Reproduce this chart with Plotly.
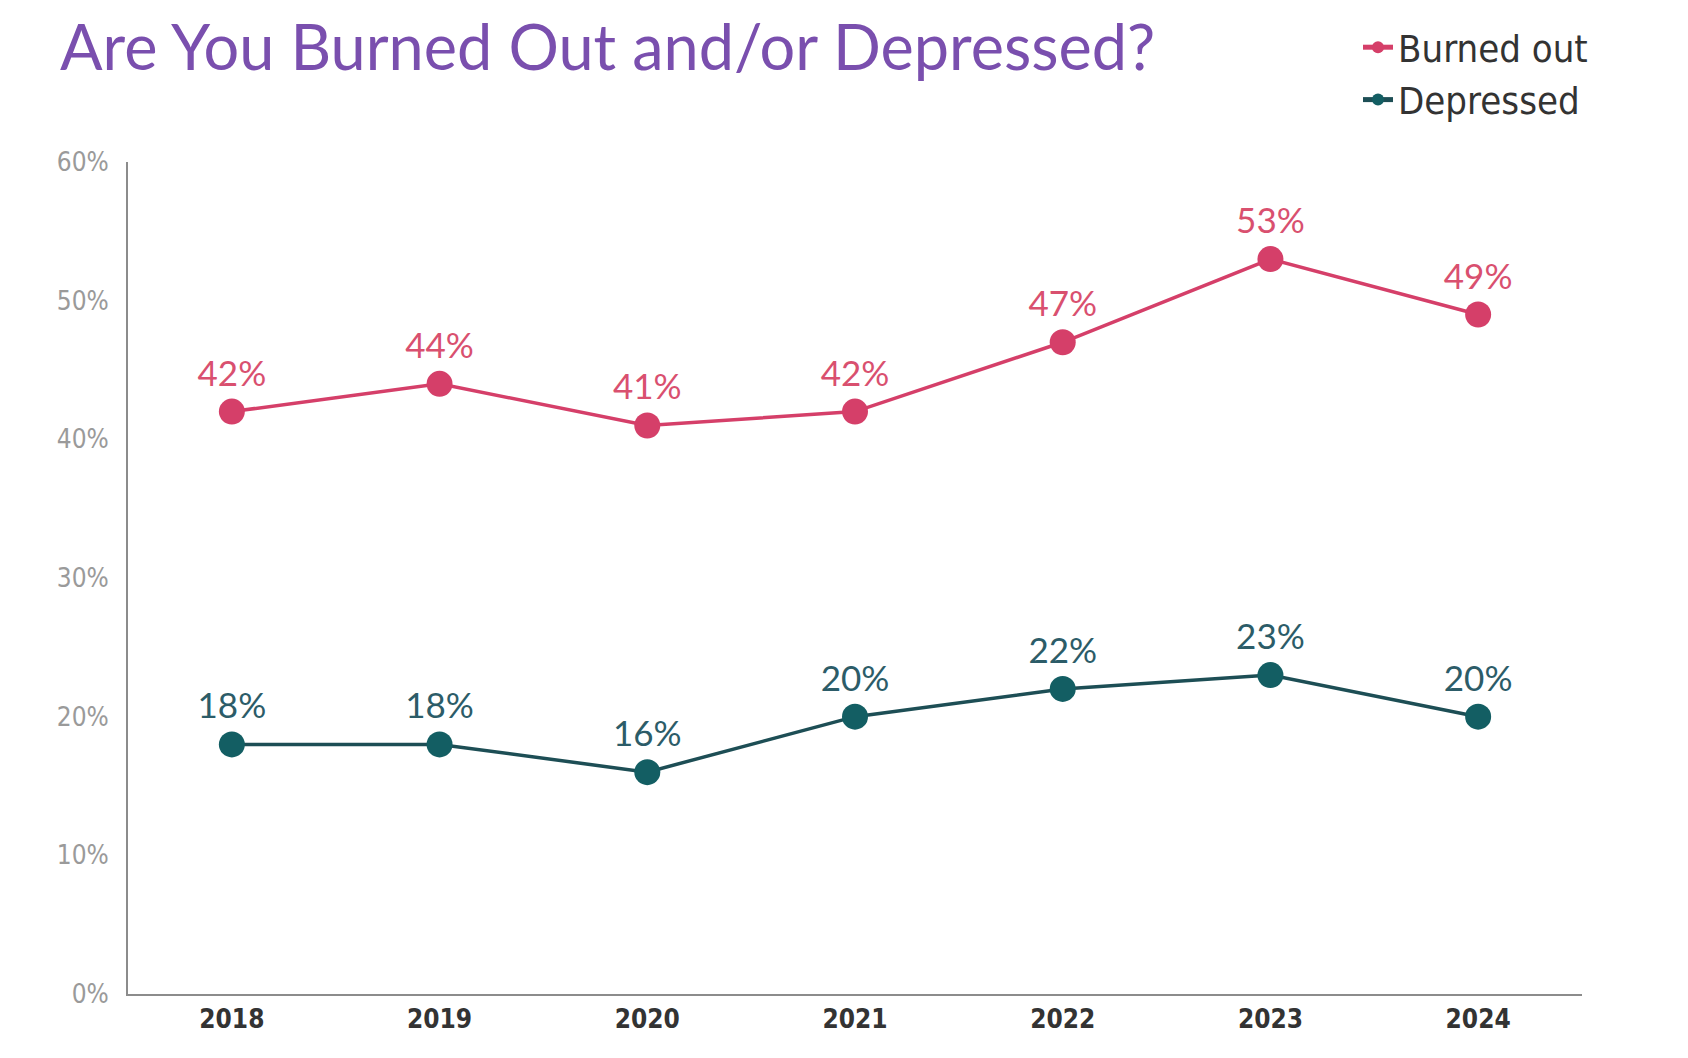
import plotly.graph_objects as go

years = ["2018", "2019", "2020", "2021", "2022", "2023", "2024"]
burned_out = [42, 44, 41, 42, 47, 53, 49]
depressed = [18, 18, 16, 20, 22, 23, 20]
y_ticks = [0, 10, 20, 30, 40, 50, 60]
y_tick_labels = ["0%", "10%", "20%", "30%", "40%", "50%", "60%"]

PINK = "#d53f69"
PINK_TEXT = "#d9506f"
TEAL = "#135e63"
TEAL_LINE = "#1d4e55"
TEAL_TEXT = "#2c5c68"
COND = "DejaVu Sans Condensed, Roboto"

L, R, T, B = 120, 114, 154, 72
PW = 1688 - L - R
PH = 1058 - T - B

fig = go.Figure()
fig.add_trace(go.Scatter(
    x=years, y=burned_out, name="Burned out", mode="lines+markers+text",
    line=dict(color=PINK, width=3.5),
    marker=dict(color=PINK, size=26),
    text=[f"{v}%" for v in burned_out], textposition="top center",
    textfont=dict(family="Lato", size=35, color=PINK_TEXT),
    cliponaxis=False,
))
fig.add_trace(go.Scatter(
    x=years, y=depressed, name="Depressed", mode="lines+markers+text",
    line=dict(color=TEAL_LINE, width=3.5),
    marker=dict(color=TEAL, size=26),
    text=[f"{v}%" for v in depressed], textposition="top center",
    textfont=dict(family="Lato", size=35, color=TEAL_TEXT),
    cliponaxis=False,
))

fig.update_layout(
    width=1688, height=1058,
    margin=dict(l=L, r=R, t=T, b=B, autoexpand=False),
    paper_bgcolor="white", plot_bgcolor="white",
    title=dict(
        text="Are You Burned Out and/or Depressed?",
        x=52 / 1688, xanchor="left", xref="container",
        y=1 - 40 / 1058, yanchor="middle", yref="container",
        font=dict(family="Lato", size=63, color="#7a4fae"),
    ),
    legend=dict(
        x=(1350 - L) / PW, xref="paper", xanchor="left",
        y=(1058 - 8 - B) / PH, yref="paper", yanchor="top",
        font=dict(family=COND, size=38, color="#333333"),
        bgcolor="rgba(0,0,0,0)", tracegroupgap=0, itemsizing="constant",
    ),
    showlegend=True,
)
fig.update_xaxes(
    type="category", range=[-0.5, 6.5],
    showline=True, linecolor="#8c8c8c", linewidth=2,
    showgrid=False, zeroline=False, ticks="",
    tickfont=dict(family=COND, size=26, color="#333333", weight="bold"),
    ticklabelstandoff=1,
)
fig.update_yaxes(
    range=[0, 60], tickvals=y_ticks, ticktext=y_tick_labels,
    showline=True, linecolor="#8c8c8c", linewidth=2,
    showgrid=False, zeroline=False, ticks="",
    tickfont=dict(family=COND, size=26, color="#9a9a9a"),
    ticklabelstandoff=12,
)

fig.write_html("out.html")
